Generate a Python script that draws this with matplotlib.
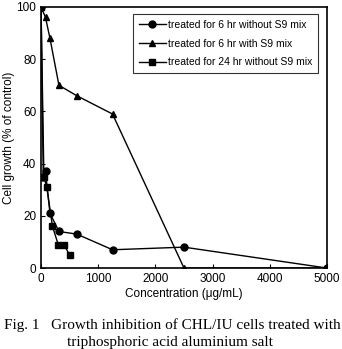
import matplotlib

matplotlib.use("Agg")
import matplotlib.pyplot as plt

plt.rcParams["font.family"] = ["Liberation Sans", "DejaVu Sans"]

conc_6hr = [0, 39, 78, 156, 313, 625, 1250, 2500, 5000]
growth_6hr = [100, 35, 37, 21, 14, 13, 7, 8, 0]

conc_s9 = [0, 78, 156, 313, 625, 1250, 2500, 5000]
growth_s9 = [100, 96, 88, 70, 66, 59, 0, 0]

conc_24hr = [0, 50, 100, 200, 300, 400, 500]
growth_24hr = [100, 35, 31, 16, 9, 9, 5]

labels = [
    "treated for 6 hr without S9 mix",
    "treated for 6 hr with S9 mix",
    "treated for 24 hr without S9 mix",
]


def main():
    fig = plt.figure(figsize=(3.42, 3.49), dpi=100)
    ax = fig.add_axes([0.12, 0.232, 0.836, 0.748])

    ax.plot(conc_6hr, growth_6hr, color="black", lw=1, marker="o", ms=5, label=labels[0])
    ax.plot(conc_s9, growth_s9, color="black", lw=1, marker="^", ms=5, label=labels[1])
    ax.plot(conc_24hr, growth_24hr, color="black", lw=1, marker="s", ms=5, label=labels[2])

    ax.set_xlim(0, 5000)
    ax.set_ylim(0, 100)
    ax.set_xticks(range(0, 5001, 1000))
    ax.set_yticks(range(0, 101, 20))
    ax.tick_params(direction="in", length=3, width=0.8, labelsize=8.5)
    for s in ax.spines.values():
        s.set_linewidth(1.2)

    ax.set_xlabel("Concentration (\u03bcg/mL)", fontsize=8.5, labelpad=2)
    ax.set_ylabel("Cell growth (% of control)", fontsize=8.5, labelpad=1)

    leg = ax.legend(
        loc="upper right",
        bbox_to_anchor=(0.968, 0.973),
        fontsize=7.5,
        frameon=True,
        fancybox=False,
        edgecolor="black",
        borderpad=0.55,
        labelspacing=0.85,
        handlelength=2.6,
        handletextpad=0.2,
        borderaxespad=0,
    )
    leg.get_frame().set_linewidth(0.8)

    serif = ["Liberation Serif", "DejaVu Serif"]
    fig.text(0.012, 0.057, "Fig. 1   Growth inhibition of CHL/IU cells treated with",
             family=serif, fontsize=11)
    fig.text(0.196, 0.009, "triphosphoric acid aluminium salt",
             family=serif, fontsize=11)

    fig.savefig("out.png", dpi=100)


if __name__ == "__main__":
    main()
